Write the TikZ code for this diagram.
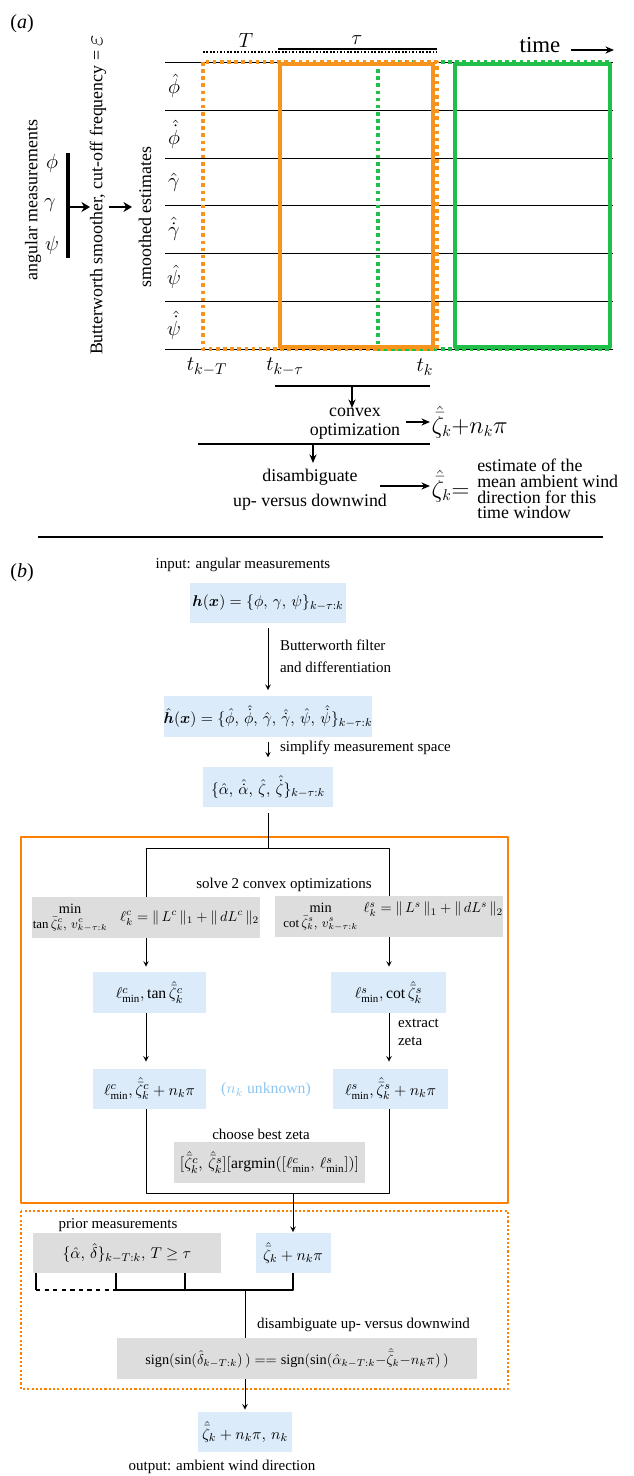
\documentclass[tikz,border=0pt]{standalone}
\usepackage{amsmath}
\usepackage{fontspec}
\setmainfont{Liberation Serif}
\setmathrm{Liberation Serif}
\usetikzlibrary{positioning,arrows.meta}
\definecolor{boxblue}{HTML}{DBEBFA}
\definecolor{boxgray}{HTML}{DDDDDD}
\definecolor{winorange}{HTML}{F7941D}
\definecolor{frameorange}{HTML}{FF8000}
\definecolor{wingreen}{HTML}{1FBF4A}
\definecolor{textblue}{HTML}{8CC6F0}
\newcommand{\zhb}{\hat{\bar{\zeta}}}
\begin{document}
\begin{tikzpicture}[x=0.7pt, y=-0.7pt, font=\fontsize{10.5}{12.5}\selectfont, line join=round, >=stealth,
	afont/.style={font=\fontsize{12.5}{13.5}\selectfont},
	mfont/.style={font=\fontsize{15}{18}\selectfont},
	bigm/.style={font=\fontsize{16}{18}\selectfont},
	sized/.style 2 args={minimum width=#1*0.7pt, minimum height=#2*0.7pt, inner sep=0pt, font=\fontsize{11}{13}\selectfont},
	bluebox/.style={fill=boxblue},
	graybox/.style={fill=boxgray},
	aarrow/.style={-{Stealth[length=6pt,width=5pt]}, line width=1pt},
	bigarrow/.style={-{Stealth[length=6pt,width=7pt]}, line width=1.8pt},
	flow/.style={->, line width=0.7pt, shorten <=3pt, shorten >=4pt}]
	\useasboundingbox (0,0) rectangle (634,1476);
	% (a) time windows
	\node[font=\fontsize{14}{16}\selectfont] (la) at (22,24) {(\textit{a})};
	\foreach \y in {62,110,158,205,253,301,349}{
		\draw[line width=0.5pt] (165,\y) -- (613,\y);
	}
	\foreach \n/\y/\s in {1/86/\hat{\phi}, 2/134/\hat{\dot{\phi}}, 3/182/\hat{\gamma}, 4/229/\hat{\dot{\gamma}}, 5/277/\hat{\psi}, 6/325/\hat{\dot{\psi}}}{
		\node[mfont, inner sep=0pt] (row\n) at (174,\y) {$\s$};
	}
	\draw[wingreen, line width=2.2pt, dash pattern=on 2.5pt off 2.5pt] (378,62) rectangle (610,349);
	\draw[winorange, line width=2.2pt, dash pattern=on 2.5pt off 2.5pt] (203,62) rectangle (437,349);
	\draw[winorange, line width=2.8pt] (280,64) rectangle (433,347);
	\draw[wingreen, line width=2.8pt] (455,64) rectangle (610,347);
	\draw[line width=0.8pt, dash pattern=on 1.2pt off 1.2pt] (203,52) -- (437,52);
	\draw[line width=0.8pt] (278,49) -- (437,49);
	\node[mfont] (lT) at (246,40) {$T$};
	\node[mfont] (ltau) at (357,40) {$\tau$};
	\node[font=\fontsize{16}{18}\selectfont] (ltime) at (540,45) {time};
	\coordinate (timeend) at (614,50);
	\draw[aarrow] ([xshift=4pt]ltime.east |- timeend) -- (timeend);
	\node[mfont] (tkT) at (207,367) {$t_{k-T}$};
	\node[mfont] (tktau) at (285,367) {$t_{k-\tau}$};
	\node[mfont] (tk) at (425,367) {$t_k$};
	% (a) smoothing
	\node[mfont] (mphi) at (52,163) {$\phi$};
	\node[mfont] (mgam) at (50,205) {$\gamma$};
	\node[mfont] (mpsi) at (52,245) {$\psi$};
	\draw[line width=2.6pt] (68,153) -- (68,258);
	\coordinate (bar) at (68,207);
	\coordinate (butterin) at (90,207);
	\coordinate (butterout) at (109,207);
	\coordinate (smoothin) at (132,207);
	\node[afont, rotate=90] (angmeas) at (33,200) {angular measurements};
	\node[afont, rotate=90] (butter) at (98,195) {Butterworth smoother, cut-off frequency = {\fontsize{16}{18}\selectfont$\varepsilon$}};
	\node[afont, rotate=90] (smooth) at (145,217) {smoothed estimates};
	\draw[bigarrow] (bar) -- (butterin);
	\draw[bigarrow] (butterout) -- (smoothin);
	% (a) estimation
	\draw[line width=1pt] (275,386) -- (430,386);
	\draw[aarrow] (352,386) -- (352,408);
	\node[afont, align=center] (convex) at (355,424) {convex\\optimization};
	\node[bigm, anchor=west, inner sep=1pt] (zn) at (430,422) {$\zhb_k{+}n_k\pi$};
	\draw[aarrow] (406,422) -- (zn.west);
	\draw[line width=1pt] (198,444) -- (430,444);
	\draw[aarrow] (313,444) -- (313,463);
	\node[afont, align=center] (disamb) at (310,490) {disambiguate\\[4pt]up- versus downwind};
	\node[bigm, anchor=west, inner sep=1pt] (zeq) at (430,486) {$\zhb_k{=}$};
	\draw[aarrow] (380,486) -- (zeq.west);
	\node[font=\fontsize{12.5}{11}\selectfont, align=left, anchor=west, inner sep=0pt] (est) at (477,489) {estimate of the\\mean ambient wind\\direction for this\\time window};
	\draw[line width=2pt] (38,537) -- (603,537);
	% (b) pipeline
	\node[font=\fontsize{14}{16}\selectfont] (lb) at (22,573) {(\textit{b})};
	\node (inlab) at (243,565) {input: angular measurements};
	\node[sized={156}{40}, bluebox] (hx) at (268,603) {$\boldsymbol{h}(\boldsymbol{x}) = \{\phi,\, \gamma,\, \psi\}_{k-\tau:k}$};
	\node[sized={206}{41}, bluebox] (hhat) at (268,716.5) {$\hat{\boldsymbol{h}}(\boldsymbol{x}) = \{\hat{\phi},\, \hat{\dot{\phi}},\, \hat{\gamma},\, \hat{\dot{\gamma}},\, \hat{\psi},\, \hat{\dot{\psi}}\}_{k-\tau:k}$};
	\draw[flow] (hx) -- (hhat);
	\node[anchor=west, align=left] (bwlab) at (275,656) {Butterworth filter\\[3pt]and differentiation};
	\node[sized={130}{40}, bluebox] (azs) at (268,787) {$\{\hat{\alpha},\, \hat{\dot{\alpha}},\, \hat{\zeta},\, \hat{\dot{\zeta}}\}_{k-\tau:k}$};
	\draw[flow, shorten >=6.5pt] (hhat) -- (azs);
	\node[anchor=west] (simlab) at (275,748) {simplify measurement space};
	% convex optimizations
	\draw[frameorange, line width=2pt] (21,837) rectangle (508,1203);
	\coordinate (split) at (268,848);
	\node[sized={228}{41}, graybox, font=\fontsize{10}{12}\selectfont] (optc) at (146,917.5) {\begin{tabular}{@{}c@{}}min\\[-2pt]{\fontsize{9}{10}\selectfont$\tan\bar{\zeta}^c_k,\, v^c_{k-\tau:k}$}\end{tabular}\hspace{0.9em}$\ell^c_k = \|\,L^c\,\|_1 + \|\,dL^c\,\|_2$\hspace{0.8em}};
	\node[sized={224}{41}, graybox, font=\fontsize{10}{12}\selectfont] (opts) at (389,916.5) {\hspace{0.6em}\begin{tabular}{@{}c@{}}min\\[-2pt]{\fontsize{9}{10}\selectfont$\cot\bar{\zeta}^s_k,\, v^s_{k-\tau:k}$}\end{tabular}\hspace{0.4em}\raisebox{5pt}{$\ell^s_k = \|\,L^s\,\|_1 + \|\,dL^s\,\|_2$}};
	\draw[line width=0.7pt, shorten <=4pt] (azs) -- (split);
	\draw[line width=0.7pt] (optc.north) |- (split) -| (opts.north);
	\node (solvelab) at (284,885) {solve 2 convex optimizations};
	\node[sized={113}{41}, bluebox] (tanc) at (149.5,992.5) {$\ell^c_{\min},\tan\zhb^c_k$};
	\node[sized={115}{41}, bluebox] (cots) at (388.5,992.5) {$\ell^s_{\min},\cot\zhb^s_k$};
	\node[sized={113}{40}, bluebox] (zetac) at (149.5,1089) {$\ell^c_{\min},\zhb^c_k + n_k\pi$};
	\node[sized={115}{40}, bluebox] (zetas) at (390.5,1089) {$\ell^s_{\min},\zhb^s_k + n_k\pi$};
	\draw[->, line width=0.7pt, shorten >=3.5pt] (optc.south) -- (optc.south |- tanc.north);
	\draw[->, line width=0.7pt, shorten >=3.5pt] (opts.south) -- (opts.south |- cots.north);
	\draw[->, line width=0.7pt, shorten >=5pt] (tanc.south -| optc.south) -- (optc.south |- zetac.north);
	\draw[->, line width=0.7pt, shorten >=5pt] (cots.south -| opts.south) -- (opts.south |- zetas.north);
	\node[anchor=west, align=left] (extlab) at (393,1032) {extract\\zeta};
	\node[textblue, font=\fontsize{11}{13}\selectfont] (unk) at (266,1090) {($n_k$ unknown)};
	\node (chooselab) at (261,1134) {choose best zeta};
	\node[sized={191}{41}, graybox] (best) at (269.5,1162.5) {$[\zhb^c_k,\, \zhb^s_k][\mathrm{argmin}([\ell^c_{\min},\, \ell^s_{\min}])]$};
	\coordinate (merge) at (293,1193);
	\draw[line width=0.7pt] (zetac.south -| optc.south) |- (merge) -| (zetas.south -| opts.south);
	% disambiguation
	\draw[frameorange, line width=1.8pt, dash pattern=on 1.5pt off 1.5pt] (21,1211) rectangle (508,1389);
	\node (priorlab) at (118,1225) {prior measurements};
	\node[sized={188}{40}, graybox] (prior) at (127,1253) {$\{\hat{\alpha},\, \hat{\delta}\}_{k-T:k},\, T\geq\tau$};
	\node[sized={75}{40}, bluebox] (zk) at (293,1253) {$\zhb_k + n_k\pi$};
	\draw[->, line width=0.7pt, shorten >=0.5pt] (merge) -- (zk.north);
	\coordinate (p1) at (36,1273);
	\coordinate (p2) at (116,1273);
	\coordinate (p3) at (185,1273);
	\coordinate (gather) at (245,1290);
	\node[anchor=west] (dislab) at (252,1325) {disambiguate up- versus downwind};
	\node[sized={360}{41}, graybox, font=\fontsize{10}{12}\selectfont] (sign) at (297,1358.5) {$\text{sign}(\sin(\hat{\delta}_{k-T:k})\,) \;{==}\; \text{sign}(\sin(\hat{\alpha}_{k-T:k} {-} \zhb_k {-} n_k\pi)\,)$\hspace{3.5em}};
	\draw[line width=1pt] (p1) -- (p1 |- gather);
	\draw[line width=1pt, dashed] (p1 |- gather) -- (p2 |- gather);
	\draw[line width=1pt] (p2) -- (p2 |- gather) -- (zk.south |- gather) -- (zk.south);
	\draw[line width=1pt] (p3) -- (p3 |- gather);
	\draw[line width=0.7pt] (gather) -- (gather |- sign.north);
	\node[sized={94}{40}, bluebox] (out) at (245,1432) {$\zhb_k + n_k\pi,\, n_k$};
	\draw[->, line width=0.7pt, shorten >=1.5pt] (sign.south -| out.north) -- (out.north);
	\node (outlab) at (222,1467) {output: ambient wind direction};
\end{tikzpicture}
\end{document}
